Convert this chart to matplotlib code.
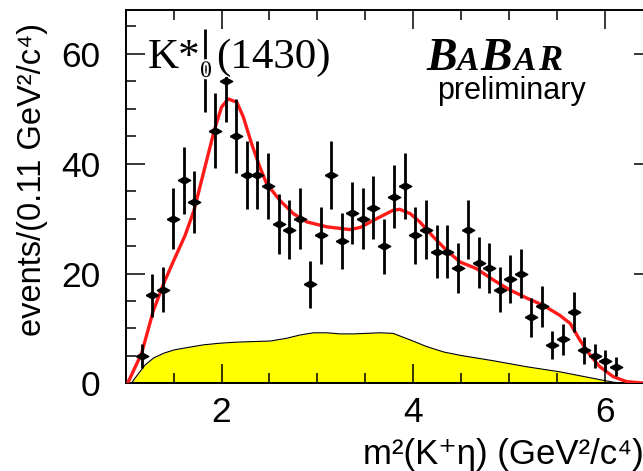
import matplotlib
matplotlib.use("Agg")
import matplotlib.pyplot as plt
import matplotlib.patheffects as pe
from matplotlib.ticker import MultipleLocator

# m^2(K+ eta) bin centres (GeV^2/c^4), 0.11 wide
m2_bins = [1.165, 1.275, 1.385, 1.495, 1.605, 1.715, 1.825, 1.935, 2.045, 2.155,
           2.265, 2.375, 2.485, 2.595, 2.705, 2.815, 2.925, 3.035, 3.145, 3.255,
           3.365, 3.475, 3.585, 3.695, 3.805, 3.915, 4.025, 4.135, 4.245, 4.355,
           4.465, 4.575, 4.685, 4.795, 4.905, 5.015, 5.125, 5.235, 5.345, 5.455,
           5.565, 5.675, 5.785, 5.895, 6.005, 6.115]
counts = [5, 16, 17, 30, 37, 33, 57, 46, 55, 45,
          38, 38, 36, 29, 28, 30, 18, 27, 38, 26,
          31, 30, 32, 25, 34, 36, 27, 28, 24, 24,
          21, 28, 22, 21, 17, 19, 20, 12, 14, 7,
          8, 13, 6, 5, 4, 3]
count_err = [2.2, 4.0, 4.1, 5.5, 6.1, 5.7, 7.5, 6.8, 7.4, 6.7,
             6.2, 6.2, 6.0, 5.4, 5.3, 5.5, 4.2, 5.2, 6.2, 5.1,
             5.6, 5.5, 5.7, 5.0, 5.8, 6.0, 5.2, 5.3, 4.9, 4.9,
             4.6, 5.3, 4.7, 4.6, 4.1, 4.4, 4.5, 3.5, 3.7, 2.6,
             2.8, 3.6, 2.4, 2.2, 2.0, 1.7]

# total fit projection
fit_x = [1.02, 1.167, 1.288, 1.392, 1.497, 1.619, 1.713, 1.81, 1.925, 2.0,
         2.07, 2.16, 2.228, 2.315, 2.40, 2.47, 2.61, 2.75, 2.89, 3.10,
         3.34, 3.45, 3.62, 3.79, 3.86, 3.97, 4.07, 4.21, 4.35, 4.49,
         4.66, 4.84, 5.01, 5.19, 5.36, 5.53, 5.64, 5.74, 5.85, 5.95,
         6.09, 6.23, 6.40, 6.5]
fit_y = [0.0, 5.5, 13.2, 18.0, 22.2, 26.9, 31.5, 38.2, 46.1, 50.3,
         51.8, 51.2, 48.5, 43.6, 39.4, 36.4, 33.3, 30.9, 29.4, 28.5,
         28.0, 28.4, 30.0, 31.5, 31.7, 30.9, 29.4, 26.7, 24.2, 22.1,
         20.9, 18.8, 17.0, 15.5, 14.2, 12.4, 10.9, 7.9, 5.1, 3.0,
         1.2, 0.3, 0.05, 0.0]

# background component
bkg_x = [1.06, 1.10, 1.20, 1.29, 1.40, 1.51, 1.64, 1.81, 1.98, 2.16,
         2.33, 2.51, 2.68, 2.82, 2.96, 3.10, 3.24, 3.38, 3.52, 3.65,
         3.79, 3.97, 4.14, 4.32, 4.49, 4.84, 5.19, 5.53, 5.88, 6.09, 6.2]
bkg_y = [0.0, 1.0, 3.3, 4.6, 5.5, 6.1, 6.5, 7.0, 7.3, 7.5,
         7.6, 7.7, 8.2, 8.8, 9.2, 9.2, 9.0, 9.0, 9.1, 9.2,
         9.1, 7.9, 6.7, 5.7, 5.1, 4.1, 3.0, 2.1, 0.9, 0.2, 0.0]

plt.rcParams['font.family'] = ['Liberation Sans', 'DejaVu Sans']

fig = plt.figure(figsize=(6.43, 4.71), dpi=100)
ax = fig.add_axes((0.1955, 0.1862, 0.8194, 0.7926))

ax.fill_between(bkg_x, bkg_y, color='#ffff00', lw=0, zorder=1)
ax.plot(bkg_x, bkg_y, color='black', lw=0.8, zorder=2)
ax.plot(fit_x, fit_y, color='#ff1a1a', lw=2.4, zorder=3)

diamond = [(-1, 0), (0, 0.55), (1, 0), (0, -0.55), (-1, 0)]
ax.errorbar(m2_bins, counts, yerr=count_err, fmt='none', ecolor='black',
            elinewidth=2, capsize=0, zorder=4)
ax.plot(m2_bins, counts, ls='none', marker=diamond, ms=9, color='black', zorder=5)

ax.set_xlim(1.0, 6.5)
ax.set_ylim(0, 68)
ax.xaxis.set_major_locator(MultipleLocator(2))
ax.xaxis.set_minor_locator(MultipleLocator(0.5))
ax.yaxis.set_major_locator(MultipleLocator(20))
ax.yaxis.set_minor_locator(MultipleLocator(5))
ax.tick_params(which='both', direction='in', top=True, right=True,
               width=1.1, labelsize=25.5)
ax.tick_params(which='major', length=13.5)
ax.tick_params(which='minor', length=7.5)
ax.tick_params(axis='y', pad=18)
ax.tick_params(axis='x', pad=9)
for s in ax.spines.values():
    s.set_linewidth(1.4)

ax.set_ylabel('events/(0.11 GeV²/c⁴)', fontsize=23.5, ha='center', va='center')
ax.yaxis.set_label_coords(-0.176, 0.547)
ax.set_xlabel('m²(K⁺η) (GeV²/c⁴)', fontsize=25, ha='left', va='baseline')
ax.xaxis.set_label_coords(0.45, -0.215)

# resonance label
serif = 'Liberation Serif'
halo = [pe.withStroke(linewidth=3, foreground='white')]
ax.text(1.233, 57.5, 'K*', family=serif, fontsize=31, va='baseline', zorder=6)
ax.text(1.838, 56.8, '0', family=serif, fontsize=17, ha='center', va='center',
        path_effects=halo, zorder=6)
ax.text(1.943, 57.5, '(1430)', family=serif, fontsize=31, va='baseline', zorder=6,
        bbox=dict(facecolor='white', edgecolor='none', pad=0))

# experiment logo
W, H = 643.0, 471.0
logo = dict(family=serif, weight='bold', style='italic', va='baseline')
fig.text(426 / W, 1 - 70 / H, 'B', fontsize=33, **logo)
fig.text(457 / W, 1 - 70 / H, 'A', fontsize=24, **logo)
fig.text(480 / W, 1 - 70 / H, 'B', fontsize=34, **logo)
fig.text(514 / W, 1 - 70 / H, 'A', fontsize=24, **logo)
fig.text(538 / W, 1 - 70 / H, 'R', fontsize=26, **logo)
fig.text(437 / W, 1 - 99 / H, 'preliminary', fontsize=22, va='baseline')

fig.savefig('out.png', dpi=100)
